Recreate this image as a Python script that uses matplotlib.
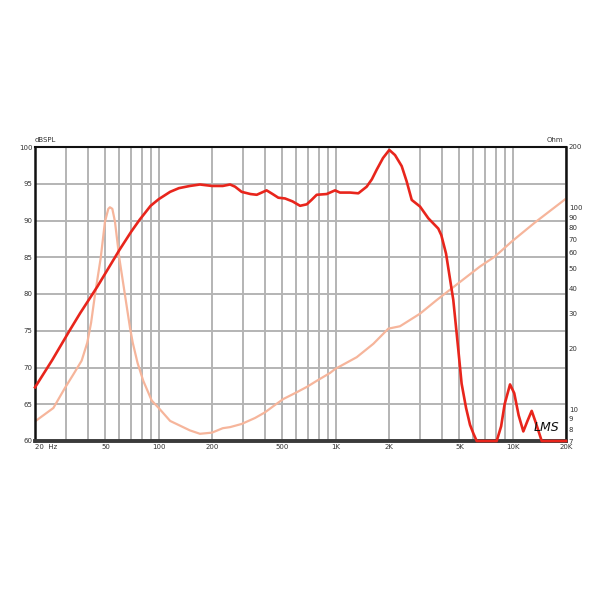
import matplotlib
matplotlib.use("Agg")
import matplotlib.pyplot as plt

# --- data -------------------------------------------------------------
spl_freq = [20, 25, 31.5, 36, 45, 60, 70, 78, 90, 100, 116, 130, 150, 171,
            200, 230, 253, 270, 294, 330, 358, 407, 440, 474, 517, 570, 629,
            686, 730, 781, 889, 991, 1057, 1205, 1342, 1496, 1600, 1703, 1850,
            2008, 2163, 2359, 2518, 2688, 2994, 3336, 3798, 3950, 4200, 4615,
            4928, 5144, 5450, 5738, 6000, 6258, 8118, 8600, 9000, 9656, 10200,
            10800, 11480, 12100, 12800, 13500, 14580, 20000]
spl_db = [67.3, 71.0, 75.1, 77.4, 81.0, 86.0, 88.5, 90.1, 92.0, 92.9, 93.9,
          94.4, 94.7, 94.9, 94.7, 94.7, 94.9, 94.6, 93.9, 93.6, 93.5, 94.1,
          93.6, 93.1, 93.0, 92.6, 92.0, 92.2, 92.8, 93.5, 93.6, 94.1, 93.8,
          93.8, 93.7, 94.6, 95.6, 96.9, 98.5, 99.6, 98.9, 97.4, 95.3, 92.8,
          91.9, 90.3, 88.9, 88.0, 85.5, 79.2, 72.4, 67.8, 64.5, 62.2, 61.0,
          60.0, 60.0, 62.0, 65.0, 67.7, 66.5, 63.5, 61.3, 62.7, 64.1, 62.5,
          60.0, 60.0]

imp_freq = [20, 25.4, 29.5, 33, 36.7, 39.5, 41.5, 43.6, 47, 49.7, 51.9, 53,
            54.7, 56.6, 59.9, 64.5, 68.8, 71.3, 76, 81.8, 91.3, 100, 116, 126,
            150, 171, 200, 230, 253, 294, 350, 398, 450, 506, 602, 690, 781,
            928, 991, 1314, 1631, 1982, 2307, 2994, 3717, 5000, 6533, 7940,
            9860, 13360, 20000]
imp_ohm = [8.75, 10.2, 12.8, 15.0, 17.5, 21.5, 27.0, 36.9, 56.3, 85.4, 98.8,
           100.6, 98.8, 85.4, 56.3, 36.9, 25.5, 21.5, 17.0, 13.9, 11.1, 10.2,
           8.8, 8.5, 7.9, 7.6, 7.7, 8.1, 8.2, 8.5, 9.1, 9.7, 10.5, 11.3, 12.2,
           13.0, 13.9, 15.2, 15.9, 18.2, 21.2, 25.2, 25.9, 29.9, 34.9, 42.7,
           51.2, 57.4, 68.0, 84.6, 111.0]

x_major = [20, 50, 100, 200, 500, 1000, 2000, 5000, 10000, 20000]
x_labels = ["20  Hz", "50", "100", "200", "500", "1K", "2K", "5K", "10K", "20K"]
x_minor = [30, 40, 60, 70, 80, 90, 300, 400, 600, 700, 800, 900,
           3000, 4000, 6000, 7000, 8000, 9000]
db_ticks = [60, 65, 70, 75, 80, 85, 90, 95, 100]
ohm_ticks = [7, 8, 9, 10, 20, 30, 40, 50, 60, 70, 80, 90, 100, 200]

# --- figure -----------------------------------------------------------
fig = plt.figure(figsize=(6, 6), dpi=100)
ax = fig.add_axes([35 / 600, 1 - 441 / 600, 531 / 600, 294 / 600])
ax2 = ax.twinx()

ax.set_xscale("log")
ax.set_xlim(20, 20000)
ax.set_ylim(60, 100)
ax2.set_yscale("log")
ax2.set_ylim(7, 200)

grid_c = "#b4b4b4"
ax.set_xticks(x_major)
ax.set_xticklabels(x_labels)
ax.set_xticks(x_minor, minor=True)
ax.set_yticks(db_ticks)
ax.grid(True, which="both", axis="x", color=grid_c, lw=1.4)
ax.grid(True, which="major", axis="y", color=grid_c, lw=1.4)
ax.set_axisbelow(True)

ax.tick_params(axis="both", which="both", length=0, labelsize=5,
               labelcolor="#333333", pad=2)
ax.xaxis.get_majorticklabels()[0].set_horizontalalignment("left")

ax2.set_yticks(ohm_ticks)
ax2.set_yticklabels([str(t) for t in ohm_ticks])
ax2.yaxis.set_minor_locator(matplotlib.ticker.NullLocator())
ax2.tick_params(axis="y", which="both", length=0, labelsize=5,
                labelcolor="#333333", pad=2)

for s in ("left", "top", "bottom", "right"):
    ax2.spines[s].set_visible(False)
ax.spines["left"].set_linewidth(1.8)
ax.spines["right"].set_linewidth(1.8)
ax.spines["top"].set_linewidth(1.5)
ax.spines["bottom"].set_linewidth(2.8)
ax.spines["bottom"].set_color("#3a3a3a")
for s in ("left", "right", "top"):
    ax.spines[s].set_color("#111111")

# impedance curve drawn beneath the SPL curve, mapped through the right axis
ax.plot(imp_freq, imp_ohm, color="#f6b59b", lw=1.6, zorder=2,
        transform=ax2.transData)
ax.plot(spl_freq, spl_db, color="#e8251c", lw=1.9, zorder=3, clip_on=False)

ax.text(0.0, 1.012, "dBSPL", transform=ax.transAxes, fontsize=5,
        color="#333333", ha="left", va="bottom")
ax.text(0.995, 1.012, "Ohm", transform=ax.transAxes, fontsize=5,
        color="#333333", ha="right", va="bottom")
ax.text(0.963, 0.045, "LMS", transform=ax.transAxes, fontsize=9,
        fontstyle="italic", color="#111111", ha="center", va="center",
        family="DejaVu Sans", fontweight="light")

fig.savefig("out.png", dpi=100, facecolor="white")
